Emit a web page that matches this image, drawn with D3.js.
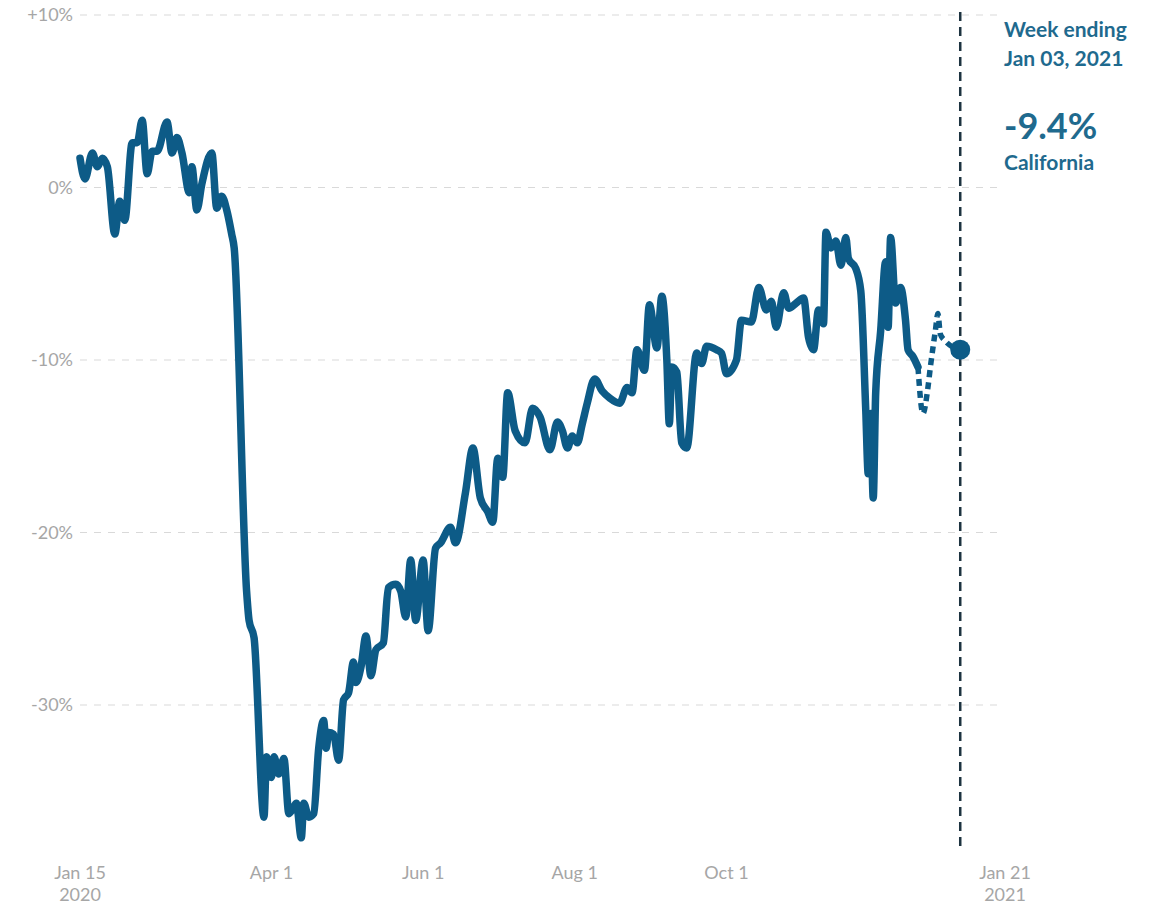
<!DOCTYPE html>
<html>
<head>
<meta charset="utf-8">
<script src="https://cdn.jsdelivr.net/npm/d3@7"></script>
<style>
  body { margin: 0; background: #fff; }
  svg { display: block; font-family: Lato, "Open Sans", sans-serif; }
</style>
</head>
<body>
<div class="chart"></div>
<script>
// days counted from Jan 15, 2020
const days = [0, 2, 5, 7, 9, 11, 14, 16, 18, 21, 23, 25, 27, 29, 31, 35, 37, 39, 41, 44, 45, 47, 49, 53, 55, 57, 59, 61, 62,
  67, 68, 70, 74, 75, 77, 78, 80, 82, 84, 86, 87, 89, 90, 92, 94, 96, 98, 99, 100, 102, 104, 106, 108, 110, 111, 113, 115,
  117, 119, 122, 124, 127, 129, 131, 133, 135, 138, 140, 143, 145, 149, 151, 155, 158, 161, 164, 166, 168, 170, 172, 175,
  179, 182, 185, 189, 192, 194, 196, 198, 200, 202, 204, 207, 210, 213, 217, 220, 222, 224, 227, 229, 232, 234, 236, 237,
  238, 240, 242, 244, 248, 250, 252, 256, 258, 260, 264, 266, 270, 273, 276, 278, 280, 283, 285, 288, 291, 293, 295, 297,
  299, 300, 302, 304, 306, 308, 309, 312, 314, 316, 317, 318, 319, 320, 322, 324, 325, 326, 328, 330, 332, 333, 335, 337];
const change = [1.7, 0.5, 2.0, 1.2, 1.7, 1.2, -2.7, -0.8, -1.9, 2.6, 2.6, 3.9, 0.8, 2.1, 2.1, 3.8, 2.0, 2.9, 2.0, -0.3, 1.2, -1.3, 0.2, 2.0, -1.2, -0.5, -1.3, -2.7, -3.5,
  -23.4, -25.1, -26.1, -36.5, -33.0, -34.2, -33.0, -34.0, -33.1, -36.3, -35.9, -35.7, -37.7, -35.7, -36.5, -36.3, -32.5, -30.9, -32.5, -31.6, -31.7, -33.2, -29.7, -29.3, -27.5, -28.7, -27.8, -26.0,
  -28.3, -26.8, -26.4, -23.2, -23.0, -23.4, -24.9, -21.6, -25.1, -21.6, -25.7, -20.9, -20.6, -19.7, -20.6, -17.7, -15.1, -18.0, -18.8, -19.4, -15.7, -16.8, -11.9, -14.1,
  -14.8, -12.8, -13.3, -15.2, -13.6, -14.1, -15.1, -14.4, -14.8, -13.7, -12.5, -11.1, -11.8, -12.2, -12.5, -11.6, -11.9, -9.4, -10.6, -6.8, -9.3, -6.3, -10.0, -13.7,
  -10.4, -10.7, -14.8, -15.1, -9.6, -10.2, -9.2, -9.4, -9.6, -10.8, -10.0, -7.7, -7.8, -5.8, -7.1, -6.6, -8.1, -6.1, -7.0, -6.7, -6.4, -8.7, -9.4, -7.1,
  -7.9, -2.6, -3.5, -3.1, -4.5, -2.9, -4.1, -4.7, -6.0, -12.9, -16.6, -13.1, -18.0, -11.9, -8.3, -4.3, -8.1, -2.9, -6.7, -5.8, -7.7, -9.4, -9.8, -10.4];

// most recent, still provisional stretch (drawn dashed)
const recentDays = [337, 339, 341, 342, 344, 345, 346, 348, 354];
const recentChange = [-10.4, -13.1, -11.6, -10.4, -8.3, -7.3, -8.5, -8.9, -9.4];

const yTicks = [10, 0, -10, -20, -30];
const xTicks = ["2020-01-15", "2020-04-01", "2020-06-01", "2020-08-01", "2020-10-01", "2021-01-21"];
const xTickLabels = [["Jan 15", "2020"], ["Apr 1"], ["Jun 1"], ["Aug 1"], ["Oct 1"], ["Jan 21", "2021"]];

const weekEnding = "2021-01-03";
const latestValue = -9.4;
const region = "California";

const parse = d3.timeParse("%Y-%m-%d");
const start = parse("2020-01-15");
const toDate = d => d3.timeDay.offset(start, d);

const width = 1160, height = 908;
const blue = "#0d5b87";
const textBlue = "#1f6a8e";

const svg = d3.select(".chart").append("svg")
    .attr("width", width)
    .attr("height", height);

const x = d3.scaleTime()
    .domain([start, parse("2021-01-21")])
    .range([80, 1005]);

const y = d3.scaleLinear()
    .domain([-40, 10])
    .range([877.5, 15]);

// gridlines
svg.append("g")
    .selectAll("line")
    .data(yTicks)
    .join("line")
    .attr("x1", 80)
    .attr("x2", 998)
    .attr("y1", d => y(d))
    .attr("y2", d => y(d))
    .attr("stroke", "#d9d9d9")
    .attr("stroke-width", 1)
    .attr("stroke-dasharray", "7,7");

svg.append("g")
    .selectAll("text")
    .data(yTicks)
    .join("text")
    .attr("x", 73)
    .attr("y", d => y(d))
    .attr("dy", "0.35em")
    .attr("text-anchor", "end")
    .style("font-size", "18px")
    .style("fill", "#a6a6a6")
    .text(d => d > 0 ? `+${d}%` : `${d}%`);

// x tick labels
const xl = svg.append("g")
    .selectAll("text")
    .data(xTicks)
    .join("text")
    .attr("transform", d => `translate(${x(parse(d))}, 879)`)
    .attr("text-anchor", "middle")
    .style("font-size", "18px")
    .style("fill", "#a6a6a6");

xl.selectAll("tspan")
    .data((d, i) => xTickLabels[i])
    .join("tspan")
    .attr("x", 0)
    .attr("y", (d, i) => i * 22)
    .text(d => d);

// week ending marker
const xe = x(parse(weekEnding));
svg.append("line")
    .attr("x1", xe).attr("x2", xe)
    .attr("y1", 12).attr("y2", 848)
    .attr("stroke", "#1d3340")
    .attr("stroke-width", 2.5)
    .attr("stroke-dasharray", "9,6");

const line = d3.line()
    .x(d => x(toDate(d[0])))
    .y(d => y(d[1]))
    .curve(d3.curveMonotoneX);

svg.append("path")
    .datum(d3.zip(days, change))
    .attr("d", line)
    .attr("fill", "none")
    .attr("stroke", blue)
    .attr("stroke-width", 7.5)
    .attr("stroke-linejoin", "round")
    .attr("stroke-linecap", "round");

svg.append("path")
    .datum(d3.zip(recentDays, recentChange))
    .attr("d", line)
    .attr("fill", "none")
    .attr("stroke", blue)
    .attr("stroke-width", 5.5)
    .attr("stroke-dasharray", "7,5");

svg.append("circle")
    .attr("cx", x(toDate(recentDays[recentDays.length - 1])))
    .attr("cy", y(latestValue))
    .attr("r", 10)
    .attr("fill", blue);

// annotation
const ann = svg.append("g")
    .attr("transform", "translate(1004, 0)")
    .style("fill", textBlue)
    .style("font-weight", "bold");

ann.append("text").attr("y", 37).style("font-size", "21px").text("Week ending");
ann.append("text").attr("y", 66).style("font-size", "21px").text(d3.timeFormat("%b %d, %Y")(parse(weekEnding)));
ann.append("text").attr("y", 139).style("font-size", "36px").text(`${latestValue}%`);
ann.append("text").attr("y", 170).style("font-size", "21px").text(region);
</script>
</body>
</html>
